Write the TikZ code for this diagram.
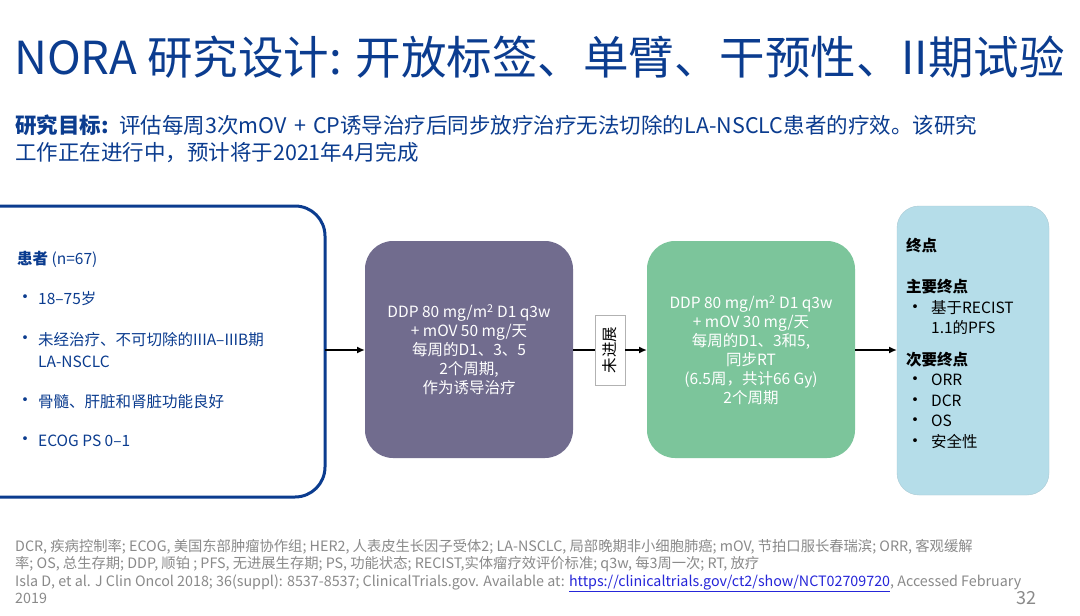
\documentclass[tikz,border=0pt]{standalone}
\usepackage{fontspec}
\setmainfont{Noto Sans CJK SC}
\usetikzlibrary{arrows.meta}
\definecolor{tblue}{HTML}{0B3C8F}
\definecolor{purp}{HTML}{716C8E}
\definecolor{grn}{HTML}{7CC59B}
\definecolor{lblue}{HTML}{B5DDE9}
\definecolor{gtxt}{HTML}{8A8A8A}
\newcommand{\bul}{{\fontsize{18}{18}\selectfont •}}
\begin{document}
\begin{tikzpicture}[x=1pt,y=-1pt,
  bx/.style={rounded corners=28pt,draw=none},
  wtxt/.style={text=white,font=\fontsize{15.5}{19}\selectfont,align=center},
  arr/.style={-{Latex[length=8pt,width=7pt]},line width=2pt}]
\useasboundingbox[fill=white] (0,0) rectangle (1080,616);
\node[anchor=west,text=tblue,font=\fontsize{45.5}{48}\selectfont,inner sep=0pt] (title) at (14,57) {NORA 研究设计: 开放标签、单臂、干预性、II期试验};
\node[anchor=north west,text=tblue,font=\fontsize{21.5}{27}\selectfont,align=left,text width=1060pt,inner sep=0pt] (goal) at (15,115) {\textbf{研究目标:} 评估每周3次mOV + CP诱导治疗后同步放疗治疗无法切除的LA-NSCLC患者的疗效。该研究\\工作正在进行中，预计将于2021年4月完成};
\draw[tblue,line width=3pt,rounded corners=30pt] (-30,206) rectangle (325,497);
\node[anchor=west,text=tblue,font=\fontsize{15.5}{18}\selectfont,align=left,inner sep=0pt] (pat) at (17,259) {\textbf{患者} (n=67)};
\foreach \y/\t in {299/18--75岁,340/未经治疗、不可切除的IIIA--IIIB期,402/骨髓、肝脏和肾脏功能良好,441/ECOG PS 0--1}{
  \node[text=tblue,anchor=west,inner sep=0pt] at (16,\y) {\bul};
  \node[text=tblue,font=\fontsize{15.5}{18}\selectfont,anchor=west,inner sep=0pt] at (38,\y) {\t};}
\node[text=tblue,font=\fontsize{15.5}{18}\selectfont,anchor=west,inner sep=0pt] at (38,362) {LA-NSCLC};
\coordinate (pe) at (325,350);
\fill[purp,rounded corners=28pt] (365,241) rectangle (573,458);
\node[wtxt] (p) at (469,350) {DDP 80 mg/m\textsuperscript{2} D1 q3w\\+ mOV 50 mg/天\\每周的D1、3、5\\2个周期,\\作为诱导治疗};
\coordinate (pw) at (365,350); \coordinate (pe2) at (573,350);
\node[draw=gray!60,fill=white,minimum width=30pt,minimum height=70pt,inner sep=0pt] (lab) at (610,350) {};
\node[rotate=90,font=\fontsize{15.5}{18}\selectfont] at (610,350) {未进展};
\fill[grn,rounded corners=28pt] (647,241) rectangle (855,458);
\node[wtxt] (g) at (751,350) {DDP 80 mg/m\textsuperscript{2} D1 q3w\\+ mOV 30 mg/天\\每周的D1、3和5,\\同步RT\\(6.5周，共计66 Gy)\\2个周期};
\coordinate (gw) at (647,350); \coordinate (ge) at (855,350);
\draw[fill=lblue,draw=lblue!80!gray,rounded corners=22pt] (897,206) rectangle (1049,495);
\coordinate (ew) at (897,350);
\node[anchor=north west,inner sep=0pt,align=left,font=\fontsize{15.5}{18}\selectfont] (ep) at (906,238) {\textbf{终点}};
\node[anchor=north west,inner sep=0pt,align=left,font=\fontsize{15.5}{20.5}\selectfont] (ep2) at (906,279) {\textbf{主要终点}\\\bul\ \ 基于RECIST\\\phantom{\bul\ \ }1.1的PFS\\[11pt]\textbf{次要终点}\\\bul\ \ ORR\\\bul\ \ DCR\\\bul\ \ OS\\\bul\ \ 安全性};
\draw[arr] (pe) -- (pw);
\draw[line width=2pt] (pe2) -- (lab.west);
\draw[arr] (lab.east) -- (gw);
\draw[arr] (ge) -- (ew);
\node[anchor=north west,inner sep=0pt,text=gtxt,font=\fontsize{14.3}{17.5}\selectfont,align=left] (fn) at (15,539) {DCR, 疾病控制率; ECOG, 美国东部肿瘤协作组; HER2, 人表皮生长因子受体2; LA-NSCLC, 局部晚期非小细胞肺癌; mOV, 节拍口服长春瑞滨; ORR, 客观缓解\\率; OS, 总生存期; DDP, 顺铂 ; PFS, 无进展生存期; PS, 功能状态; RECIST,实体瘤疗效评价标准; q3w, 每3周一次; RT, 放疗\\Isla D, et al. J Clin Oncol 2018; 36(suppl): 8537-8537; ClinicalTrials.gov. Available at: \textcolor{blue!70!gray}{\underline{https://clinicaltrials.gov/ct2/show/NCT02709720}}, Accessed February\\2019};
\node[text=gtxt,font=\fontsize{18}{20}\selectfont,anchor=east] (pg) at (1040,598) {32};
\end{tikzpicture}
\end{document}
